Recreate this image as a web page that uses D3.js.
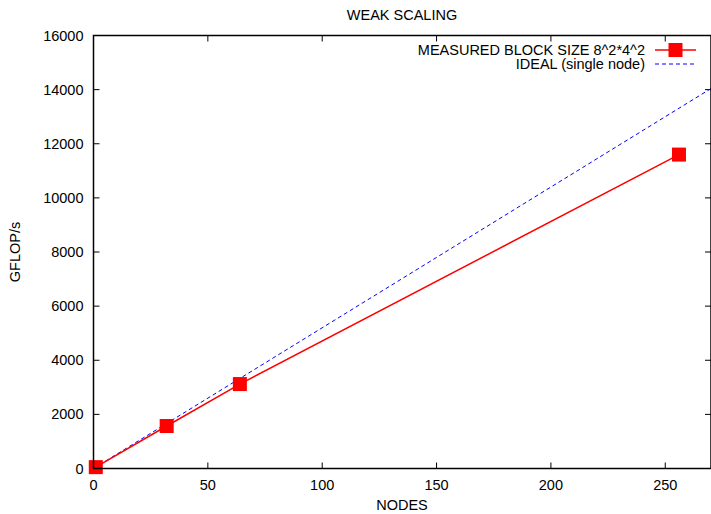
<!DOCTYPE html>
<html>
<head>
<meta charset="utf-8">
<script src="https://cdn.jsdelivr.net/npm/d3@7.9.0/dist/d3.min.js"></script>
<style>
  body { margin: 0; background: #fff; }
  svg { display: block; font-family: "Liberation Sans", Arial, sans-serif; }
  text { fill: #000; font-size: 14.5px; }
</style>
</head>
<body>
<svg id="chart" width="711" height="514"></svg>
<script>
// data
const nodes = [1, 32, 64, 256];
const measured = [50, 1570, 3120, 11600];
const idealPerNode = 52;          // single node rate, ideal = n * rate
const idealRange = [0, 270];
const xTicks = [0, 50, 100, 150, 200, 250];
const yTicks = [0, 2000, 4000, 6000, 8000, 10000, 12000, 14000, 16000];

const svg = d3.select("#chart");
const m = { left: 93.5, right: 711, top: 35.5, bottom: 468.5 };

const x = d3.scaleLinear().domain(idealRange).range([m.left, m.right]);
const y = d3.scaleLinear().domain([0, 16000]).range([m.bottom, m.top]);

// ticks (inside, mirrored)
const tl = 6;
const g = svg.append("g").attr("stroke", "#000").attr("stroke-width", 1);
xTicks.forEach(t => {
  g.append("line").attr("x1", x(t)).attr("x2", x(t)).attr("y1", m.bottom).attr("y2", m.bottom - tl);
  g.append("line").attr("x1", x(t)).attr("x2", x(t)).attr("y1", m.top).attr("y2", m.top + tl);
});
yTicks.forEach(t => {
  g.append("line").attr("x1", m.left).attr("x2", m.left + tl).attr("y1", y(t)).attr("y2", y(t));
  g.append("line").attr("x1", m.right).attr("x2", m.right - tl).attr("y1", y(t)).attr("y2", y(t));
});

// tick labels
svg.append("g").selectAll("text").data(xTicks).join("text")
  .attr("x", d => x(d)).attr("y", m.bottom + 21)
  .attr("text-anchor", "middle").text(d => d);
svg.append("g").selectAll("text").data(yTicks).join("text")
  .attr("x", m.left - 10).attr("y", d => y(d) + 5)
  .attr("text-anchor", "end").text(d => d);

// clip
svg.append("clipPath").attr("id", "clip").append("rect")
  .attr("x", m.left).attr("y", m.top).attr("width", m.right - m.left).attr("height", m.bottom - m.top);

const plot = svg.append("g").attr("clip-path", "url(#clip)");

// ideal line
const line = d3.line().x(d => x(d[0])).y(d => y(d[1]));
plot.append("path")
  .attr("d", line(idealRange.map(n => [n, n * idealPerNode])))
  .attr("fill", "none").attr("stroke", "#0000ff").attr("stroke-width", 1)
  .attr("stroke-dasharray", "4,3");

// measured
const pts = nodes.map((n, i) => [n, measured[i]]);
plot.append("path").attr("d", line(pts))
  .attr("fill", "none").attr("stroke", "#ff0000").attr("stroke-width", 1.5);

const ms = 14;
svg.append("g").selectAll("rect").data(pts).join("rect")
  .attr("x", d => x(d[0]) - ms / 2).attr("y", d => y(d[1]) - ms / 2)
  .attr("width", ms).attr("height", ms).attr("fill", "#ff0000");

// border
svg.append("rect")
  .attr("x", m.left).attr("y", m.top).attr("width", m.right - m.left).attr("height", m.bottom - m.top)
  .attr("fill", "none").attr("stroke", "#000").attr("stroke-width", 1.5);

// legend
const lg = svg.append("g");
lg.append("text").attr("x", 645).attr("y", 55).attr("text-anchor", "end").text("MEASURED BLOCK SIZE 8^2*4^2");
lg.append("line").attr("x1", 655).attr("x2", 696).attr("y1", 50).attr("y2", 50)
  .attr("stroke", "#ff0000").attr("stroke-width", 1.5);
lg.append("rect").attr("x", 675.5 - ms / 2).attr("y", 50 - ms / 2).attr("width", ms).attr("height", ms).attr("fill", "#ff0000");
lg.append("text").attr("x", 645).attr("y", 69).attr("text-anchor", "end").text("IDEAL (single node)");
lg.append("line").attr("x1", 655).attr("x2", 696).attr("y1", 64).attr("y2", 64)
  .attr("stroke", "#0000ff").attr("stroke-width", 1).attr("stroke-dasharray", "4,3");

// titles
svg.append("text").attr("x", 402).attr("y", 20).attr("text-anchor", "middle").text("WEAK SCALING");
svg.append("text").attr("x", 402).attr("y", 510).attr("text-anchor", "middle").text("NODES");
svg.append("text").attr("transform", "translate(20,252) rotate(-90)").attr("text-anchor", "middle").text("GFLOP/s");
</script>
</body>
</html>
